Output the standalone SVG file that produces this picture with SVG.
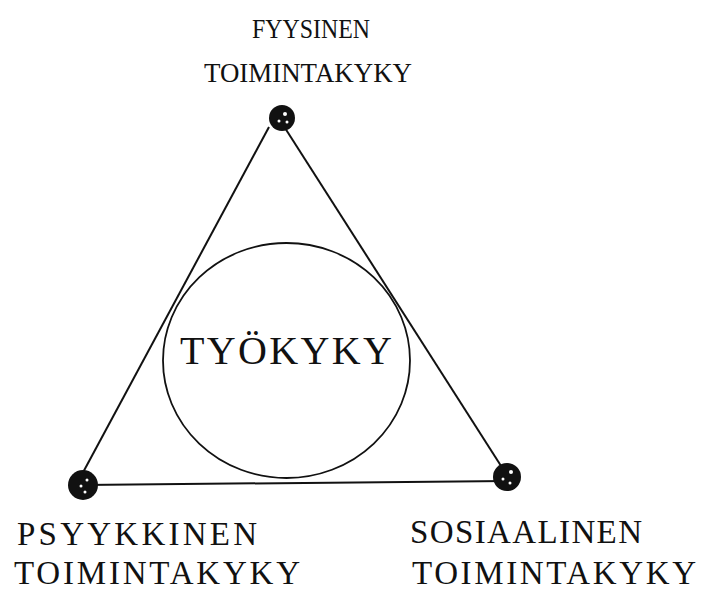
<svg xmlns="http://www.w3.org/2000/svg" width="707" height="590" viewBox="0 0 707 590">
<style>
.t{font-family:"Liberation Serif","Times New Roman",serif;fill:#111}
.edge{stroke:#111;stroke-width:2;fill:none}
.dot{fill:#111}
.spk{fill:#fff}
</style>
<rect width="707" height="590" fill="#fff"/>
<g id="connectors">
<line class="edge" x1="269" y1="127" x2="80" y2="478"/>
<line class="edge" x1="285" y1="128" x2="503" y2="469"/>
<line class="edge" x1="83" y1="485" x2="507" y2="481"/>
</g>
<g id="tyokyky">
<ellipse cx="286.5" cy="360.5" rx="123.5" ry="117.5" fill="none" stroke="#111" stroke-width="1.8"/>
<text class="t" x="180" y="364" font-size="40" textLength="212" lengthAdjust="spacing">TYÖKYKY</text>
</g>
<g id="fyysinen">
<circle class="dot" cx="282" cy="118" r="13"/>
<circle class="spk" cx="285" cy="114" r="2"/>
<circle class="spk" cx="279" cy="121" r="1.5"/>
<circle class="spk" cx="287" cy="122" r="1.5"/>
<text class="t" x="252" y="38" font-size="27" textLength="118" lengthAdjust="spacingAndGlyphs">FYYSINEN</text>
<text class="t" x="204" y="82" font-size="27" textLength="208" lengthAdjust="spacingAndGlyphs">TOIMINTAKYKY</text>
</g>
<g id="psyykkinen">
<circle class="dot" cx="83" cy="485" r="15"/>
<circle class="spk" cx="87" cy="480" r="1.5"/>
<circle class="spk" cx="81" cy="486" r="1.5"/>
<circle class="spk" cx="85" cy="492" r="1.5"/>
<text class="t" x="17" y="545" font-size="33" textLength="240" lengthAdjust="spacing">PSYYKKINEN</text>
<text class="t" x="14" y="584" font-size="33" textLength="286" lengthAdjust="spacing">TOIMINTAKYKY</text>
</g>
<g id="sosiaalinen">
<circle class="dot" cx="507" cy="477" r="14"/>
<circle class="spk" cx="511" cy="472" r="2"/>
<circle class="spk" cx="503" cy="479" r="1.5"/>
<circle class="spk" cx="510" cy="483" r="1.5"/>
<text class="t" x="410" y="543" font-size="33" textLength="232" lengthAdjust="spacing">SOSIAALINEN</text>
<text class="t" x="412" y="584" font-size="33" textLength="284" lengthAdjust="spacing">TOIMINTAKYKY</text>
</g>
</svg>
